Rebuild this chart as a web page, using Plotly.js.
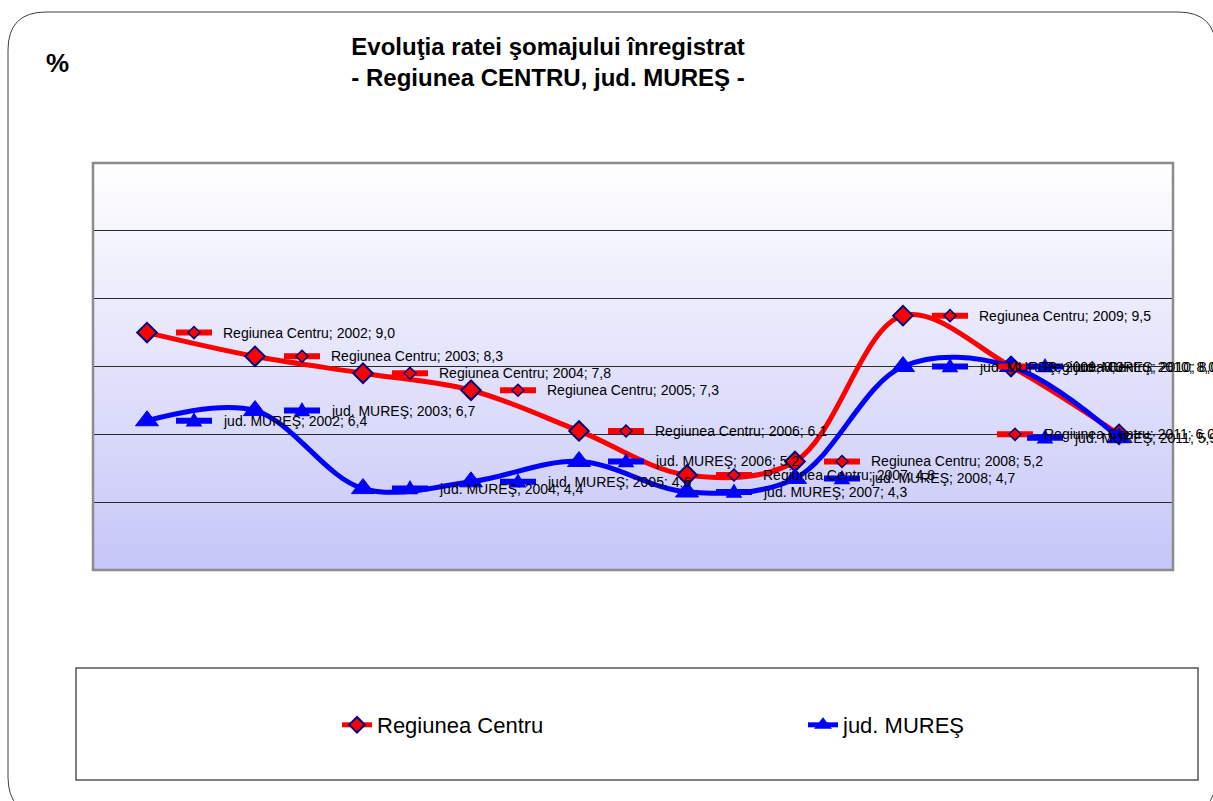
<!DOCTYPE html>
<html><head><meta charset="utf-8">
<script src="https://cdn.plot.ly/plotly-3.0.1.min.js"></script>
<style>html,body{margin:0;padding:0;background:#fff}#chart{width:1213px;height:801px}</style>
</head><body><div id="chart"></div>
<script>
// ---- data ----
const years = ['2002','2003','2004','2005','2006','2007','2008','2009','2010','2011'];
const centruName = 'Regiunea Centru';
const muresName = 'jud. MUREŞ';
const centruValues = [9.0, 8.3, 7.8, 7.3, 6.1, 4.8, 5.2, 9.5, 8.0, 6.0];
const muresValues  = [6.4, 6.7, 4.4, 4.6, 5.2, 4.3, 4.7, 8.0, 8.0, 5.9];
const titleText = '<b>Evoluţia ratei şomajului înregistrat</b><br><b>- Regiunea CENTRU, jud. MUREŞ -</b>';
const unitText = '<b>%</b>';

// ---- label placement (pixel offsets of the label key from its point) ----
const centruKeyOffset = [29,29,29,29,29,29,29,29,-14,-122];
const muresKeyOffset  = [29,29,29,29,29,29,29,29,16,-92];

const FONT = 'Liberation Sans, Arial, sans-serif';
const RED = '#ff0000', BLUE = '#0000ff', NAVY = '#000080';

// page pixel -> paper coordinates (plot area 93..1173 x 163..570)
const L = 93, R = 1173, T = 163, B = 570;
const px = v => (v - L) / (R - L);
const py = v => (B - v) / (B - T);

const fmt = v => v.toFixed(1).replace('.', ',');

const traces = [
  {type:'scatter', mode:'lines+markers', name: centruName, x: years, y: centruValues,
   line:{color:RED, width:5, shape:'spline', smoothing:1},
   marker:{symbol:'diamond', size:15, color:RED, line:{color:NAVY, width:2}},
   hoverinfo:'skip', legend:'legend'},
  {type:'scatter', mode:'lines+markers', name: muresName, x: years, y: muresValues,
   line:{color:BLUE, width:5, shape:'spline', smoothing:1},
   marker:{symbol:'triangle-up', size:20, color:BLUE, line:{color:BLUE, width:1}},
   hoverinfo:'skip', legend:'legend2'}
];

const shapes = [];
// gradient background bands
const N = 80;
const c0 = [198,198,248], c1 = [255,255,255];
for (let k = 0; k < N; k++) {
  const t = (k + 0.5) / N;
  const c = c0.map((a, j) => Math.round(a + (c1[j] - a) * t));
  shapes.push({type:'rect', xref:'paper', yref:'paper', x0:0, x1:1, y0:k/N, y1:(k+1)/N + 0.002,
    fillcolor:`rgb(${c[0]},${c[1]},${c[2]})`, line:{width:0}, layer:'below'});
}
// plot border
shapes.push({type:'rect', xref:'paper', yref:'paper', x0:0, x1:1, y0:0, y1:1,
  line:{color:'#8c8c8c', width:2.5}, fillcolor:'rgba(0,0,0,0)', layer:'above'});
// legend box
shapes.push({type:'rect', xref:'paper', yref:'paper', x0:px(76), x1:px(1198), y0:py(780), y1:py(668),
  line:{color:'#555555', width:1.5}, fillcolor:'rgba(0,0,0,0)', layer:'above'});
// outer rounded frame
(function(){
  const x0 = 8, y0 = 12, x1 = 1216, y1 = 815, r = 38;
  const P = (x, y) => `${px(x)},${py(y)}`;
  const path = `M ${P(x0, y0 + r)} Q ${P(x0, y0)} ${P(x0 + r, y0)} L ${P(x1 - r, y0)} Q ${P(x1, y0)} ${P(x1, y0 + r)} ` +
               `L ${P(x1, y1 - r)} Q ${P(x1, y1)} ${P(x1 - r, y1)} L ${P(x0 + r, y1)} Q ${P(x0, y1)} ${P(x0, y1 - r)} Z`;
  shapes.push({type:'path', xref:'paper', yref:'paper', path, line:{color:'#404040', width:1}, fillcolor:'rgba(0,0,0,0)', layer:'above'});
})();

const annotations = [];
function addLabels(values, name, offsets, color, kind) {
  values.forEach((v, i) => {
    const off = offsets[i];
    // category index i as anchor
    shapes.push({type:'line', xref:'x', yref:'y', xsizemode:'pixel', ysizemode:'pixel',
      xanchor: i, yanchor: v, x0: off, x1: off + 36, y0: 0, y1: 0,
      line:{color, width:6}, layer:'above'});
    const c = off + 18;
    const path = kind === 'diamond'
      ? `M ${c},6 L ${c + 6},0 L ${c},-6 L ${c - 6},0 Z`
      : `M ${c - 7},-5 L ${c + 7},-5 L ${c},7 Z`;
    shapes.push({type:'path', xref:'x', yref:'y', xsizemode:'pixel', ysizemode:'pixel',
      xanchor: i, yanchor: v, path,
      fillcolor: color, line:{color: kind === 'diamond' ? NAVY : color, width:1.5}, layer:'above'});
    annotations.push({x: i, y: v, xref:'x', yref:'y', xanchor:'left', yanchor:'middle',
      xshift: off + 45, showarrow:false, text: `${name}; ${years[i]}; ${fmt(v)}`,
      font:{family:FONT, size:14, color:'#000'}});
  });
}
addLabels(centruValues, centruName, centruKeyOffset, RED, 'diamond');
addLabels(muresValues, muresName, muresKeyOffset, BLUE, 'triangle');

annotations.push({xref:'paper', yref:'paper', x:px(57), y:py(63), xanchor:'center', yanchor:'middle',
  showarrow:false, text: unitText, font:{family:FONT, size:26, color:'#000'}});

const legendBase = {orientation:'h', y:py(725), xanchor:'left', yanchor:'middle',
  font:{family:FONT, size:22, color:'#000'}, bgcolor:'rgba(0,0,0,0)', borderwidth:0,
  itemsizing:'constant', itemwidth:30};

const layout = {
  width:1213, height:801, autosize:false,
  margin:{l:L, r:1213 - R, t:T, b:801 - B, pad:0},
  paper_bgcolor:'#ffffff', plot_bgcolor:'rgba(0,0,0,0)',
  font:{family:FONT, color:'#000'},
  title:{text:titleText, font:{family:FONT, size:24, color:'#000'},
    xref:'container', yref:'container', x:548/1213, xanchor:'center', y:1 - 55/801, yanchor:'middle'},
  xaxis:{type:'category', range:[-0.5, 9.5], showticklabels:false, ticks:'', showgrid:false,
    zeroline:false, showline:false, fixedrange:true},
  yaxis:{range:[2, 14], dtick:2, tick0:0, showticklabels:false, ticks:'', showgrid:true,
    gridcolor:'#2b2b2b', gridwidth:1, zeroline:false, showline:false, fixedrange:true},
  showlegend:true,
  legend: Object.assign({}, legendBase, {x:px(337)}),
  legend2: Object.assign({}, legendBase, {x:px(803)}),
  shapes, annotations
};

Plotly.newPlot('chart', traces, layout, {displayModeBar:false, staticPlot:true});
</script>
</body></html>
